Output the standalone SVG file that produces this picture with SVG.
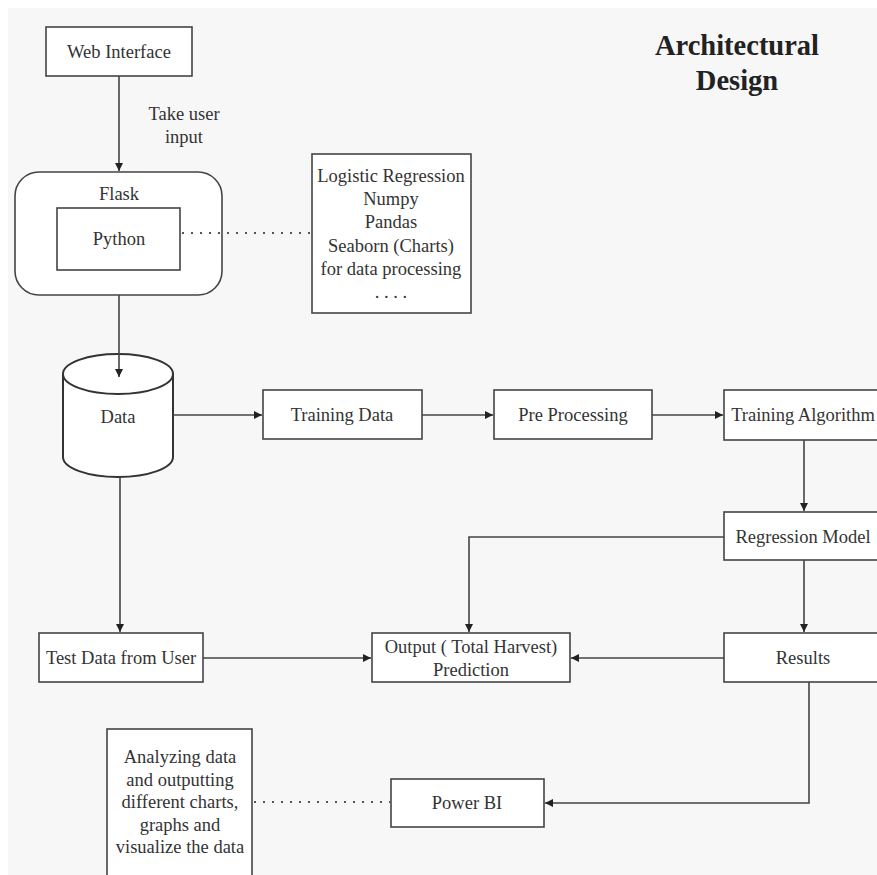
<svg xmlns="http://www.w3.org/2000/svg" width="877" height="875" viewBox="0 0 877 875">
<defs>
<marker id="arr" markerWidth="10" markerHeight="10" refX="9" refY="5" orient="auto" markerUnits="userSpaceOnUse">
<path d="M1,1 L9,5 L1,9 z" fill="#222"/>
</marker>
<style>
.box{fill:#fff;stroke:#444;stroke-width:1.6}
.t{font-family:"Liberation Serif","Times New Roman",Times,serif;font-size:18.5px;fill:#333;text-anchor:middle}
.title{font-family:"Liberation Serif","Times New Roman",Times,serif;font-size:28.5px;font-weight:bold;fill:#222;text-anchor:middle}
.c{fill:none;stroke:#444;stroke-width:1.6}
.dot{fill:none;stroke:#555;stroke-width:2;stroke-dasharray:2 7}
</style>
</defs>
<rect x="0" y="0" width="877" height="875" fill="#ffffff"/>
<rect x="8" y="8" width="869" height="867" fill="#f7f7f7"/>

<g id="title">
<text class="title" x="737" y="55">Architectural</text>
<text class="title" x="737" y="90">Design</text>
</g>

<g id="web-interface">
<rect class="box" x="46" y="27" width="146" height="49"/>
<text class="t" x="119" y="58">Web Interface</text>
</g>

<g id="take-user-input-label">
<text class="t" x="184" y="120">Take user</text>
<text class="t" x="184" y="143">input</text>
</g>

<g id="flask">
<rect class="box" x="15" y="172" width="207" height="123" rx="24" ry="24"/>
<text class="t" x="119" y="200">Flask</text>
</g>

<g id="python">
<rect class="box" x="57" y="208" width="123" height="62"/>
<text class="t" x="119" y="245">Python</text>
</g>

<g id="libraries">
<rect class="box" x="312" y="154" width="159" height="159"/>
<text class="t" x="391" y="182">Logistic Regression</text>
<text class="t" x="391" y="205">Numpy</text>
<text class="t" x="391" y="228">Pandas</text>
<text class="t" x="391" y="252">Seaborn (Charts)</text>
<text class="t" x="391" y="275">for data processing</text>
<text class="t" x="391" y="298">. . . .</text>
</g>

<g id="data">
<path d="M63,374 A55,20 0 0 1 173,374 V457 A55,20 0 0 1 63,457 Z" fill="#fff" stroke="#333" stroke-width="2"/>
<path d="M63,374 A55,20 0 0 0 173,374" fill="none" stroke="#333" stroke-width="2"/>
<text class="t" x="118" y="423">Data</text>
</g>

<g id="training-data">
<rect class="box" x="263" y="390" width="159" height="49"/>
<text class="t" x="342" y="421">Training Data</text>
</g>

<g id="pre-processing">
<rect class="box" x="494" y="390" width="158" height="49"/>
<text class="t" x="573" y="421">Pre Processing</text>
</g>

<g id="training-algorithm">
<rect class="box" x="724" y="390" width="158" height="50"/>
<text class="t" x="803" y="421">Training Algorithm</text>
</g>

<g id="regression-model">
<rect class="box" x="724" y="512" width="158" height="48"/>
<text class="t" x="803" y="543">Regression Model</text>
</g>

<g id="results">
<rect class="box" x="724" y="633" width="158" height="49"/>
<text class="t" x="803" y="664">Results</text>
</g>

<g id="output">
<rect class="box" x="372" y="633" width="198" height="49"/>
<text class="t" x="471" y="653">Output ( Total Harvest)</text>
<text class="t" x="471" y="676">Prediction</text>
</g>

<g id="test-data">
<rect class="box" x="39" y="633" width="164" height="49"/>
<text class="t" x="121" y="664">Test Data from User</text>
</g>

<g id="power-bi">
<rect class="box" x="391" y="779" width="153" height="48"/>
<text class="t" x="467" y="809">Power BI</text>
</g>

<g id="analyzing">
<rect class="box" x="107" y="729" width="145" height="152"/>
<text class="t" x="180" y="763">Analyzing data</text>
<text class="t" x="180" y="786">and outputting</text>
<text class="t" x="180" y="808">different charts,</text>
<text class="t" x="180" y="831">graphs and</text>
<text class="t" x="180" y="853">visualize the data</text>
</g>

<g id="connectors">
<line class="c" x1="119" y1="76" x2="119" y2="171" marker-end="url(#arr)"/>
<line class="c" x1="119" y1="295" x2="119" y2="377" marker-end="url(#arr)"/>
<line class="c" x1="173" y1="415" x2="262" y2="415" marker-end="url(#arr)"/>
<line class="c" x1="422" y1="415" x2="493" y2="415" marker-end="url(#arr)"/>
<line class="c" x1="652" y1="415" x2="723" y2="415" marker-end="url(#arr)"/>
<line class="c" x1="804" y1="440" x2="804" y2="511" marker-end="url(#arr)"/>
<path class="c" d="M724,537 H469 V632" marker-end="url(#arr)"/>
<line class="c" x1="804" y1="560" x2="804" y2="632" marker-end="url(#arr)"/>
<line class="c" x1="724" y1="658" x2="571" y2="658" marker-end="url(#arr)"/>
<line class="c" x1="120" y1="477" x2="120" y2="632" marker-end="url(#arr)"/>
<line class="c" x1="203" y1="658" x2="371" y2="658" marker-end="url(#arr)"/>
<path class="c" d="M809,682 V803 H545" marker-end="url(#arr)"/>
<line class="dot" x1="182" y1="233" x2="311" y2="233"/>
<line class="dot" x1="254" y1="802" x2="390" y2="802"/>
</g>
</svg>
